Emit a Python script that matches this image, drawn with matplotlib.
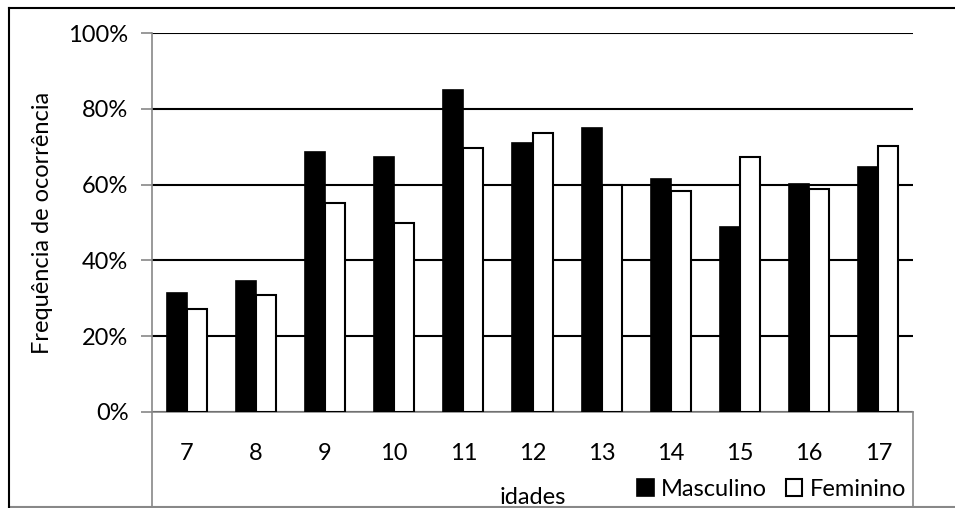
import numpy as np
import matplotlib.pyplot as plt
from matplotlib.lines import Line2D

plt.rcParams['font.family'] = ['Lato', 'DejaVu Sans']

# Dados
idades = ['7', '8', '9', '10', '11', '12', '13', '14', '15', '16', '17']
masculino = [31.5, 34.5, 68.7, 67.3, 85.0, 71.0, 75.0, 61.5, 48.9, 60.2, 64.7]
feminino = [27.2, 30.8, 55.2, 50.0, 69.7, 73.6, 60.0, 58.2, 67.4, 58.8, 70.1]

fs = 17

fig = plt.figure(figsize=(9.55, 5.08), dpi=100)
ax = fig.add_axes([0.1592, 0.189, 0.7968, 0.746])

x = np.arange(len(idades))
w = 0.29
ax.bar(x - w / 2, masculino, w, color='black', edgecolor='black', linewidth=1.2,
       label='Masculino', zorder=3)
ax.bar(x + w / 2, feminino, w, color='white', edgecolor='black', linewidth=1.5,
       label='Feminino', zorder=3)

ax.set_xlim(-0.5, len(idades) - 0.5)
ax.set_ylim(0, 100)
ax.set_yticks(range(0, 101, 20))
ax.set_yticklabels([f'{v}%' for v in range(0, 101, 20)], fontsize=fs)
ax.set_xticks(x)
ax.set_xticklabels(idades, fontsize=fs)
ax.tick_params(axis='x', length=0, pad=22)
ax.tick_params(axis='y', length=8, color='#888888', width=1.2, pad=9)
ax.grid(axis='y', color='black', linewidth=1.5, zorder=0)

for s in ['top', 'right']:
    ax.spines[s].set_visible(False)
ax.spines['left'].set_color('#888888')
ax.spines['bottom'].set_color('#888888')
ax.spines['left'].set_linewidth(1.2)
ax.spines['bottom'].set_linewidth(1.2)

# caixa do eixo x (cinzento) que desce até ao fundo
fig.add_artist(Line2D([152 / 955, 152 / 955], [0.002, 0.189], color='#888888', lw=1.2))
fig.add_artist(Line2D([913 / 955, 913 / 955], [0.002, 0.189], color='#888888', lw=1.2))
fig.add_artist(Line2D([9 / 955, 1.0], [0.002, 0.002], color='#888888', lw=1.5))
# moldura exterior
fig.add_artist(Line2D([9 / 955, 9 / 955], [0.0, 1 - 8 / 508], color='black', lw=1.5))
fig.add_artist(Line2D([9 / 955, 1.0], [1 - 8 / 508, 1 - 8 / 508], color='black', lw=1.5))

ax.set_ylabel('Frequência de ocorrência', fontsize=fs, labelpad=11)
fig.text(533 / 955, 1 - 497 / 508, 'idades', fontsize=fs, ha='center', va='center')

fig.legend(loc='center left', bbox_to_anchor=(628 / 955, 1 - 489 / 508), ncol=2,
           frameon=False, fontsize=fs, handlelength=0.7, handleheight=0.7,
           handletextpad=0.3, columnspacing=0.8, borderaxespad=0)

plt.savefig('out.png', dpi=100)
